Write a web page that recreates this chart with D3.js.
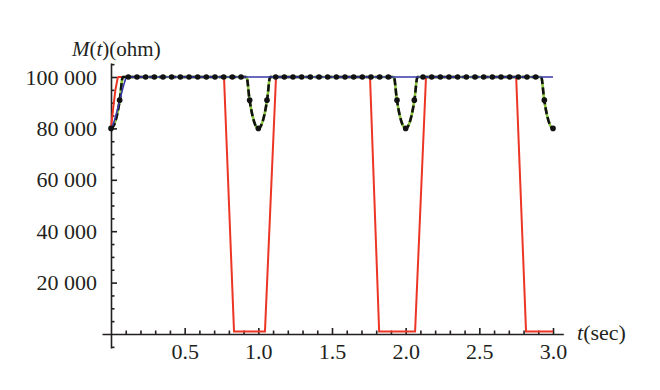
<!DOCTYPE html>
<html>
  <head>
    <script src="https://d3js.org/d3.v7.min.js"></script>
    <style>
      body { margin: 0; background: white; }
      text { font-family: "Liberation Serif", serif; fill: #231f20; }
    </style>
  </head>
  <body>
    <script>
      // memristance M(t)
      const tRed = [0, 0.015, 0.03, 0.045, 0.05, 0.767, 0.835, 1.045, 1.12, 1.758, 1.82, 2.064, 2.138, 2.75, 2.817, 3.0];
      const mRed = [80000, 88000, 95000, 99500, 100000, 100000, 1000, 1000, 100000, 100000, 1000, 1000, 100000, 100000, 1000, 1000];

      const tBlue = [0, 0.02, 0.04, 0.06, 0.08, 0.1, 0.11, 3.0];
      const mBlue = [80000, 82500, 86500, 91000, 95500, 99300, 100000, 100000];

      const tDash = [0, 0.02, 0.04, 0.06, 0.08,
                     0.92, 0.94, 0.96, 0.98, 1.0, 1.02, 1.04, 1.06, 1.08,
                     1.92, 1.94, 1.96, 1.98, 2.0, 2.02, 2.04, 2.06, 2.08,
                     2.92, 2.94, 2.96, 2.98, 3.0];
      const mDash = [80000, 81250, 85000, 91250, 100000,
                     100000, 91250, 85000, 81250, 80000, 81250, 85000, 91250, 100000,
                     100000, 91250, 85000, 81250, 80000, 81250, 85000, 91250, 100000,
                     100000, 91250, 85000, 81250, 80000];

      const tDots = [0, 0.0588, 0.1176, 0.1765, 0.2353, 0.2941, 0.3529, 0.4118, 0.4706, 0.5294,
                     0.5882, 0.6471, 0.7059, 0.7647, 0.8235, 0.8824, 0.9412, 1.0, 1.0588, 1.1176,
                     1.1765, 1.2353, 1.2941, 1.3529, 1.4118, 1.4706, 1.5294, 1.5882, 1.6471, 1.7059,
                     1.7647, 1.8235, 1.8824, 1.9412, 2.0, 2.0588, 2.1176, 2.1765, 2.2353, 2.2941,
                     2.3529, 2.4118, 2.4706, 2.5294, 2.5882, 2.6471, 2.7059, 2.7647, 2.8235, 2.8824,
                     2.9412, 3.0];
      const mDots = [80000, 91000, 100000, 100000, 100000, 100000, 100000, 100000, 100000, 100000,
                     100000, 100000, 100000, 100000, 100000, 100000, 91000, 80000, 91000, 100000,
                     100000, 100000, 100000, 100000, 100000, 100000, 100000, 100000, 100000, 100000,
                     100000, 100000, 100000, 91000, 80000, 91000, 100000, 100000, 100000, 100000,
                     100000, 100000, 100000, 100000, 100000, 100000, 100000, 100000, 100000, 100000,
                     91000, 80000];

      const xMajor = [0.5, 1.0, 1.5, 2.0, 2.5, 3.0];
      const yMajor = [20000, 40000, 60000, 80000, 100000];

      const w = 660;
      const h = 390;

      const svg = d3.select('body')
                    .append('svg')
                    .attr('width', w)
                    .attr('height', h);

      const x = d3.scaleLinear().domain([0, 3]).range([111, 553]);
      const y = d3.scaleLinear().domain([0, 100000]).range([334, 77]);

      const xExt = [-0.061, 3.07];
      const yExt = [-5400, 105400];
      const xAxisScale = x.copy().domain(xExt).range(xExt.map(x));
      const yAxisScale = y.copy().domain(yExt).range(yExt.map(y));

      const xMinor = d3.range(1, 31).map(i => i / 10).filter(v => Math.abs(v * 2 - Math.round(v * 2)) > 1e-6);
      const yMinor = d3.range(-1, 22).map(i => i * 5000).filter(v => v % 20000 !== 0);

      // x axis
      const gx = svg.append('g').attr('transform', `translate(0,${y(0)})`);
      gx.call(d3.axisBottom(xAxisScale).tickValues(xMinor).tickSize(-3.5).tickSizeOuter(0).tickFormat(''));
      gx.append('g').call(d3.axisBottom(xAxisScale).tickValues(xMajor).tickSize(-6).tickSizeOuter(0)
        .tickPadding(9).tickFormat(d3.format('.1f')));
      gx.selectAll('g g .domain').remove();

      // y axis
      const gy = svg.append('g').attr('transform', `translate(${x(0)},0)`);
      gy.call(d3.axisLeft(yAxisScale).tickValues(yMinor).tickSize(-3.5).tickSizeOuter(0).tickFormat(''));
      gy.append('g').call(d3.axisLeft(yAxisScale).tickValues(yMajor).tickSize(-6).tickSizeOuter(0)
        .tickPadding(14).tickFormat(d => d3.format(',')(d).replace(',', ' ')));
      gy.selectAll('g g .domain').remove();

      svg.selectAll('.domain, .tick line').attr('stroke', '#231f20').attr('stroke-width', 1.6);
      svg.selectAll('.tick text').style('font-size', '22px').attr('fill', '#231f20');

      const line = (ts, ms, curve) => d3.line()
        .x(i => x(ts[i]))
        .y(i => y(ms[i]))
        .curve(curve)(d3.range(ts.length));

      svg.append('path')
         .attr('d', line(tRed, mRed, d3.curveLinear))
         .attr('fill', 'none')
         .attr('stroke', '#ec3524')
         .attr('stroke-width', 2);

      svg.append('path')
         .attr('d', line(tDash, mDash, d3.curveMonotoneX))
         .attr('fill', 'none')
         .attr('stroke', '#8cc63f')
         .attr('stroke-width', 2.6);

      svg.append('path')
         .attr('d', line(tDash, mDash, d3.curveMonotoneX))
         .attr('fill', 'none')
         .attr('stroke', '#111')
         .attr('stroke-width', 2.6)
         .attr('stroke-dasharray', '7,3');

      svg.append('path')
         .attr('d', line(tBlue, mBlue, d3.curveMonotoneX))
         .attr('fill', 'none')
         .attr('stroke', '#3a3aa8')
         .attr('stroke-width', 1.6);

      svg.selectAll('circle')
         .data(d3.range(tDots.length))
         .enter()
         .append('circle')
         .attr('cx', i => x(tDots[i]))
         .attr('cy', i => y(mDots[i]))
         .attr('r', 2.8)
         .attr('fill', '#111');

      // axis labels
      const yl = svg.append('text').attr('x', 72).attr('y', 56).style('font-size', '21px');
      yl.append('tspan').style('font-style', 'italic').text('M');
      yl.append('tspan').text('(');
      yl.append('tspan').style('font-style', 'italic').text('t');
      yl.append('tspan').text(')(ohm)');

      const xl = svg.append('text').attr('x', 577).attr('y', 340).style('font-size', '22px');
      xl.append('tspan').style('font-style', 'italic').text('t');
      xl.append('tspan').text('(sec)');
    </script>
  </body>
</html>
